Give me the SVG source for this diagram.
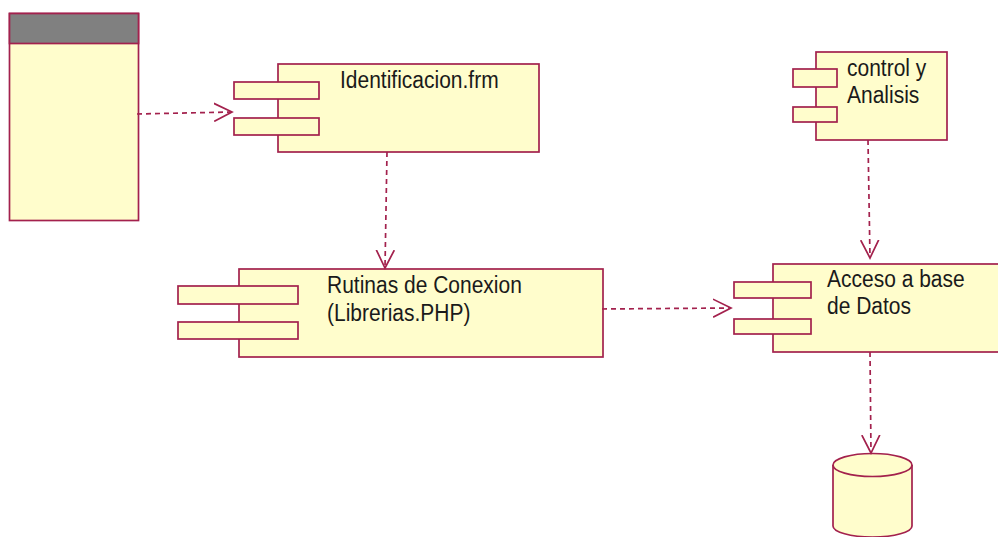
<svg xmlns="http://www.w3.org/2000/svg" width="998" height="537" viewBox="0 0 998 537">
  <defs>
    <style>
      .box { fill: #FFFDCC; stroke: #A3214D; stroke-width: 1.7; }
      .head { fill: #808080; stroke: #A3214D; stroke-width: 1.7; }
      .dep { fill: none; stroke: #A3214D; stroke-width: 1.7; stroke-dasharray: 5 4; }
      .lbl { font-family: "Liberation Sans", Arial, sans-serif; font-size: 21px; fill: #1A1A1A; }
    </style>
    <marker id="open" viewBox="0 0 20 20" refX="18" refY="10" markerWidth="20" markerHeight="20" markerUnits="userSpaceOnUse" orient="auto">
      <path d="M0,1 L18,10 L0,19" fill="none" stroke="#A3214D" stroke-width="1.7"/>
    </marker>
  </defs>

  <rect width="998" height="537" fill="#FFFFFF"/>

  <!-- class-like box with dark header -->
  <g id="frame">
    <rect class="box" x="9.5" y="13.5" width="129" height="207"/>
    <rect class="head" x="9.5" y="13.5" width="129" height="30"/>
  </g>

  <g id="identificacion">
    <rect class="box" x="278" y="64" width="261" height="88"/>
    <rect class="box" x="234" y="82" width="85" height="17"/>
    <rect class="box" x="234" y="118" width="85" height="17"/>
    <text class="lbl" transform="translate(340,88) scale(1,1.1)">Identificacion.frm</text>
  </g>

  <g id="rutinas">
    <rect class="box" x="239" y="269" width="364" height="88"/>
    <rect class="box" x="178" y="286" width="120" height="18"/>
    <rect class="box" x="178" y="322" width="120" height="17"/>
    <text class="lbl" transform="translate(327,293) scale(1,1.1)">Rutinas de Conexion</text>
    <text class="lbl" transform="translate(327,321) scale(1,1.1)">(Librerias.PHP)</text>
  </g>

  <g id="control">
    <rect class="box" x="816" y="52" width="131" height="88"/>
    <rect class="box" x="793" y="69" width="44" height="18"/>
    <rect class="box" x="793" y="107" width="44" height="15"/>
    <text class="lbl" transform="translate(847,76) scale(1,1.1)">control y</text>
    <text class="lbl" transform="translate(847,103) scale(1,1.1)">Analisis</text>
  </g>

  <g id="acceso">
    <rect class="box" x="773" y="264" width="240" height="88"/>
    <rect class="box" x="734" y="282" width="77" height="16"/>
    <rect class="box" x="734" y="319" width="77" height="15"/>
    <text class="lbl" transform="translate(827,287) scale(1,1.1)">Acceso a base</text>
    <text class="lbl" transform="translate(827,314) scale(1,1.1)">de Datos</text>
  </g>

  <g id="database">
    <path class="box" d="M833,465 L833,526 A39.5,11 0 0 0 912,526 L912,465"/>
    <ellipse class="box" cx="872.5" cy="465" rx="39.5" ry="11.5"/>
  </g>

  <g id="connectors">
    <path class="dep" d="M137,114 L232,112" marker-end="url(#open)"/>
    <path class="dep" d="M387,152 L385,268" marker-end="url(#open)"/>
    <path class="dep" d="M602,309 L731,308" marker-end="url(#open)"/>
    <path class="dep" d="M868,140 L870,258" marker-end="url(#open)"/>
    <path class="dep" d="M870,352 L871,453" marker-end="url(#open)"/>
  </g>
</svg>
